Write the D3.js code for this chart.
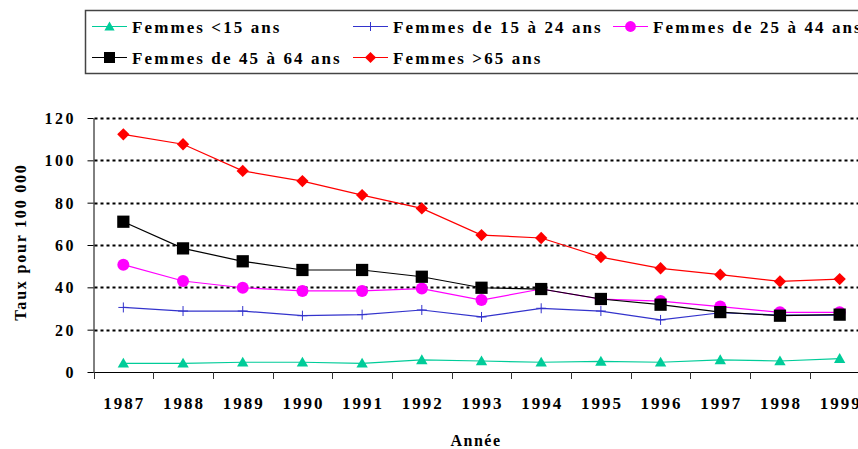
<!DOCTYPE html>
<html>
<head>
<meta charset="utf-8">
<script src="https://cdn.jsdelivr.net/npm/d3@7"></script>
<style>
  html, body { margin: 0; padding: 0; background: #fff; }
  svg { display: block; }
  text { font-family: "Liberation Serif", "Times New Roman", serif; font-weight: bold; fill: #000; }
</style>
</head>
<body>
<svg id="chart" width="858" height="449" font-family="Liberation Serif, Times New Roman, serif"></svg>
<script>
const years = [1987, 1988, 1989, 1990, 1991, 1992, 1993, 1994, 1995, 1996, 1997, 1998, 1999];
const under15  = [4.1, 4.1, 4.6, 4.6, 4.1, 5.7, 5.2, 4.6, 5.0, 4.6, 5.7, 5.2, 6.3];
const age15_24 = [30.5, 28.8, 28.8, 26.6, 27.1, 29.3, 26.0, 30.1, 28.8, 24.6, 28.0, 26.9, 26.9];
const age25_44 = [50.7, 43.0, 39.8, 38.3, 38.3, 39.4, 34.0, 39.2, 34.4, 33.5, 30.9, 28.2, 28.2];
const age45_64 = [71.0, 58.4, 52.3, 48.2, 48.2, 45.0, 39.8, 39.2, 34.5, 31.8, 28.3, 26.6, 27.1];
const over65   = [112.3, 107.6, 95.0, 90.2, 83.6, 77.3, 64.7, 63.3, 54.3, 49.0, 46.0, 42.8, 43.9];
const yTicks = [0, 20, 40, 60, 80, 100, 120];
const seriesNames = ["Femmes <15 ans", "Femmes de 15 à 24 ans", "Femmes de 25 à 44 ans", "Femmes de 45 à 64 ans", "Femmes >65 ans"];
const xTitle = "Année";
const yTitle = "Taux pour 100 000";

const series = [
  { name: seriesNames[0], values: under15,  color: "#00CC99", shape: "triangle" },
  { name: seriesNames[1], values: age15_24, color: "#3333CC", shape: "plus" },
  { name: seriesNames[2], values: age25_44, color: "#FF00FF", shape: "circle" },
  { name: seriesNames[3], values: age45_64, color: "#000000", shape: "square" },
  { name: seriesNames[4], values: over65,   color: "#FF0000", shape: "diamond" }
];

const svg = d3.select("#chart");
const plot = { left: 93.5, right: 869.5, top: 118, bottom: 372 };

const x = d3.scaleBand().domain(years).range([plot.left, plot.right]).paddingInner(0).paddingOuter(0);
const cx = d => x(d) + x.bandwidth() / 2;
const y = d3.scaleLinear().domain([0, 120]).range([plot.bottom, plot.top]);

// gridlines
svg.append("g").selectAll("line")
  .data(yTicks.filter(t => t > 0))
  .join("line")
  .attr("x1", plot.left + 1).attr("x2", plot.right)
  .attr("y1", d => Math.round(y(d)) + 0.5).attr("y2", d => Math.round(y(d)) + 0.5)
  .attr("stroke", "#000").attr("stroke-width", 2).attr("stroke-dasharray", "3,3");

// y axis
const yAxis = svg.append("g")
  .attr("transform", `translate(${plot.left},0)`)
  .call(d3.axisLeft(y).tickValues(yTicks).tickSize(6).tickPadding(14).tickSizeOuter(0));
yAxis.attr("font-family", null);
yAxis.select(".domain").attr("stroke", "#000").attr("stroke-width", 1);
yAxis.selectAll(".tick line").attr("stroke", "#000");
yAxis.selectAll(".tick text")
  .style("font-size", "16px").style("letter-spacing", "2.5px")
  .attr("dx", "2.5px").attr("dy", "0.35em");

// x axis baseline and boundary ticks
const xg = svg.append("g");
xg.append("line")
  .attr("x1", plot.left).attr("x2", plot.right)
  .attr("y1", plot.bottom + 0.5).attr("y2", plot.bottom + 0.5)
  .attr("stroke", "#000").attr("stroke-width", 1);
xg.selectAll("line.tk")
  .data(years.concat(["end"]))
  .join("line").attr("class", "tk")
  .attr("x1", d => Math.round(d === "end" ? plot.right : x(d)) + 0.5)
  .attr("x2", d => Math.round(d === "end" ? plot.right : x(d)) + 0.5)
  .attr("y1", plot.bottom).attr("y2", plot.bottom + 7)
  .attr("stroke", "#333").attr("stroke-width", 1);

// x labels
const xAxis = svg.append("g")
  .attr("transform", `translate(0,${plot.bottom})`)
  .call(d3.axisBottom(x).tickSize(0).tickPadding(0));
xAxis.attr("font-family", null);
xAxis.select(".domain").remove();
xAxis.selectAll(".tick text")
  .attr("y", 37).attr("dy", 0)
  .attr("dx", "1px")
  .style("font-size", "17px").style("letter-spacing", "2px");

// axis titles
svg.append("text").attr("x", 476).attr("y", 446)
  .attr("text-anchor", "middle")
  .style("font-size", "16px").style("letter-spacing", "1.5px")
  .text(xTitle);
svg.append("text")
  .attr("transform", "translate(26,242) rotate(-90)")
  .attr("text-anchor", "middle")
  .style("font-size", "16px").style("letter-spacing", "1.8px")
  .text(yTitle);

// markers
function marker(sel, shape, color, scale) {
  const s = scale || 1;
  if (shape === "triangle") {
    sel.append("path").attr("d", d3.symbol(d3.symbolTriangle, 56 * s * s)())
      .attr("transform", "translate(0,1)")
      .attr("fill", color);
  } else if (shape === "plus") {
    sel.append("path").attr("d", `M${-5 * s},0H${5 * s}M0,${-5 * s}V${5 * s}`)
      .attr("stroke", color).attr("stroke-width", 1).attr("fill", "none");
  } else if (shape === "circle") {
    sel.append("circle").attr("r", 6 * s).attr("fill", color);
  } else if (shape === "square") {
    sel.append("path").attr("d", d3.symbol(d3.symbolSquare, 150 * s * s)()).attr("fill", color);
  } else if (shape === "diamond") {
    sel.append("path").attr("d", d3.symbol(d3.symbolSquare, 76 * s * s)())
      .attr("transform", "rotate(45)").attr("fill", color);
  }
}

const line = d3.line().x((d, i) => cx(years[i])).y(d => y(d));
series.forEach(s => {
  const g = svg.append("g");
  g.append("path").datum(s.values).attr("d", line)
    .attr("fill", "none").attr("stroke", s.color).attr("stroke-width", 1.2);
  g.selectAll("g.pt").data(s.values).join("g").attr("class", "pt")
    .attr("transform", (d, i) => `translate(${cx(years[i])},${y(d)})`)
    .each(function () { marker(d3.select(this), s.shape, s.color, 1); });
});

// legend
const lg = svg.append("g");
lg.append("rect").attr("x", 85.5).attr("y", 10.5).attr("width", 800).attr("height", 63)
  .attr("fill", "#fff").attr("stroke", "#444").attr("stroke-width", 1.5);
const colX = [92, 353, 613];
const rowY = [26.5, 57.5];
series.forEach((s, i) => {
  const col = i < 3 ? i : i - 3;
  const row = i < 3 ? 0 : 1;
  const g = lg.append("g").attr("transform", `translate(${colX[col]},${rowY[row]})`);
  g.append("line").attr("x1", 0).attr("x2", 35).attr("y1", 0).attr("y2", 0)
    .attr("stroke", s.color).attr("stroke-width", 1.2);
  const m = g.append("g").attr("transform", "translate(17.5,0)");
  marker(m, s.shape, s.color, 0.9);
  g.append("text").attr("x", 40).attr("y", 6)
    .style("font-size", "17px").style("letter-spacing", "2.1px")
    .text(s.name);
});
</script>
</body>
</html>
